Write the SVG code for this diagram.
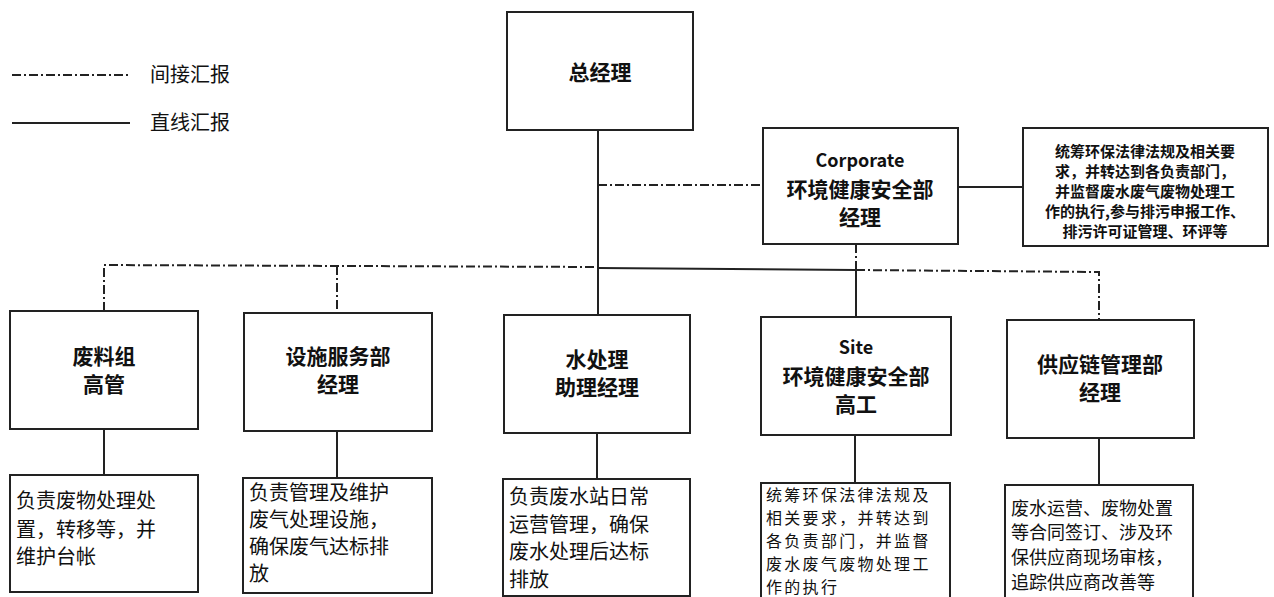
<svg xmlns="http://www.w3.org/2000/svg" width="1274" height="597" viewBox="0 0 1274 597">
<style>
.box{fill:#fff;stroke:#222;stroke-width:2}
.solid{stroke:#222;stroke-width:2;fill:none}
.dd{stroke:#222;stroke-width:2;fill:none;stroke-dasharray:9,3,2,3}
.t{font-family:"Noto Sans CJK SC","Liberation Sans",sans-serif;fill:#111}
.title{font-size:21px;font-weight:bold;text-anchor:middle}
.desc{font-size:20px}
.d2{font-size:18px}
.d3{font-size:16px;letter-spacing:2.3px}
.small{font-size:15px;text-anchor:middle;font-weight:bold}
.leg{font-size:20px}
</style>
<rect width="1274" height="597" fill="#fff"/>
<g id="legend">
<line class="dd" x1="12" y1="75" x2="130" y2="75"/>
<text class="t leg" x="150" y="82">间接汇报</text>
<line class="solid" x1="12" y1="123" x2="130" y2="123"/>
<text class="t leg" x="150" y="130">直线汇报</text>
</g>
<g id="connectors">
<line class="solid" x1="598" y1="130" x2="598" y2="315"/>
<line class="dd" x1="598" y1="185" x2="763" y2="185"/>
<line class="solid" x1="958" y1="187" x2="1023" y2="187"/>
<polyline class="dd" points="104,311 104,265 598,267"/>
<line class="dd" x1="337" y1="266" x2="337" y2="313"/>
<line class="solid" x1="598" y1="268" x2="856" y2="270"/>
<line class="dd" x1="856" y1="244" x2="856" y2="270"/>
<line class="solid" x1="856" y1="270" x2="856" y2="317"/>
<polyline class="dd" points="856,270 1099,272 1099,320"/>
<line class="solid" x1="104" y1="429" x2="104" y2="475"/>
<line class="solid" x1="337" y1="431" x2="337" y2="478"/>
<line class="solid" x1="597" y1="433" x2="597" y2="479"/>
<line class="solid" x1="855" y1="435" x2="855" y2="483"/>
<line class="solid" x1="1099" y1="438" x2="1099" y2="485"/>
</g>
<g id="gm">
<rect class="box" x="507" y="12" width="186" height="118"/>
<text class="t title" x="600" y="80">总经理</text>
</g>
<g id="corp">
<rect class="box" x="763" y="128" width="195" height="116"/>
<text class="t title" x="860" y="167" style="font-size:18px">Corporate</text>
<text class="t title" x="860" y="197">环境健康安全部</text>
<text class="t title" x="860" y="225">经理</text>
</g>
<g id="corp-desc">
<rect class="box" x="1023" y="128" width="245" height="118"/>
<text class="t small" x="1145" y="157">统筹环保法律法规及相关要</text>
<text class="t small" x="1145" y="177">求，并转达到各负责部门，</text>
<text class="t small" x="1145" y="197">并监督废水废气废物处理工</text>
<text class="t small" x="1145" y="217">作的执行,参与排污申报工作、</text>
<text class="t small" x="1145" y="237">排污许可证管理、环评等</text>
</g>
<g id="waste">
<rect class="box" x="10" y="311" width="188" height="118"/>
<text class="t title" x="104" y="364">废料组</text>
<text class="t title" x="104" y="392">高管</text>
</g>
<g id="waste-desc">
<rect class="box" x="10" y="475" width="188" height="117"/>
<text class="t desc" x="16" y="508">负责废物处理处</text>
<text class="t desc" x="16" y="537">置，转移等，并</text>
<text class="t desc" x="16" y="564">维护台帐</text>
</g>
<g id="facility">
<rect class="box" x="244" y="313" width="188" height="118"/>
<text class="t title" x="338" y="364">设施服务部</text>
<text class="t title" x="338" y="392">经理</text>
</g>
<g id="facility-desc">
<rect class="box" x="243" y="478" width="189" height="115"/>
<text class="t desc" x="249" y="500">负责管理及维护</text>
<text class="t desc" x="249" y="527">废气处理设施，</text>
<text class="t desc" x="249" y="554">确保废气达标排</text>
<text class="t desc" x="249" y="581">放</text>
</g>
<g id="water">
<rect class="box" x="504" y="315" width="186" height="118"/>
<text class="t title" x="597" y="367">水处理</text>
<text class="t title" x="597" y="395">助理经理</text>
</g>
<g id="water-desc">
<rect class="box" x="503" y="479" width="187" height="117"/>
<text class="t desc" x="509" y="504">负责废水站日常</text>
<text class="t desc" x="509" y="532">运营管理，确保</text>
<text class="t desc" x="509" y="559">废水处理后达标</text>
<text class="t desc" x="509" y="587">排放</text>
</g>
<g id="site">
<rect class="box" x="761" y="317" width="190" height="118"/>
<text class="t title" x="856" y="354" style="font-size:18px">Site</text>
<text class="t title" x="856" y="384">环境健康安全部</text>
<text class="t title" x="856" y="412">高工</text>
</g>
<g id="site-desc">
<rect class="box" x="761" y="483" width="189" height="116"/>
<text class="t d3" x="766" y="501">统筹环保法律法规及</text>
<text class="t d3" x="766" y="524">相关要求，并转达到</text>
<text class="t d3" x="766" y="547">各负责部门，并监督</text>
<text class="t d3" x="766" y="570">废水废气废物处理工</text>
<text class="t d3" x="766" y="593">作的执行</text>
</g>
<g id="supply">
<rect class="box" x="1007" y="320" width="187" height="118"/>
<text class="t title" x="1100" y="372">供应链管理部</text>
<text class="t title" x="1100" y="400">经理</text>
</g>
<g id="supply-desc">
<rect class="box" x="1005" y="485" width="188" height="114"/>
<text class="t d2" x="1011" y="515">废水运营、废物处置</text>
<text class="t d2" x="1011" y="539">等合同签订、涉及环</text>
<text class="t d2" x="1011" y="564">保供应商现场审核，</text>
<text class="t d2" x="1011" y="589">追踪供应商改善等</text>
</g>
</svg>
